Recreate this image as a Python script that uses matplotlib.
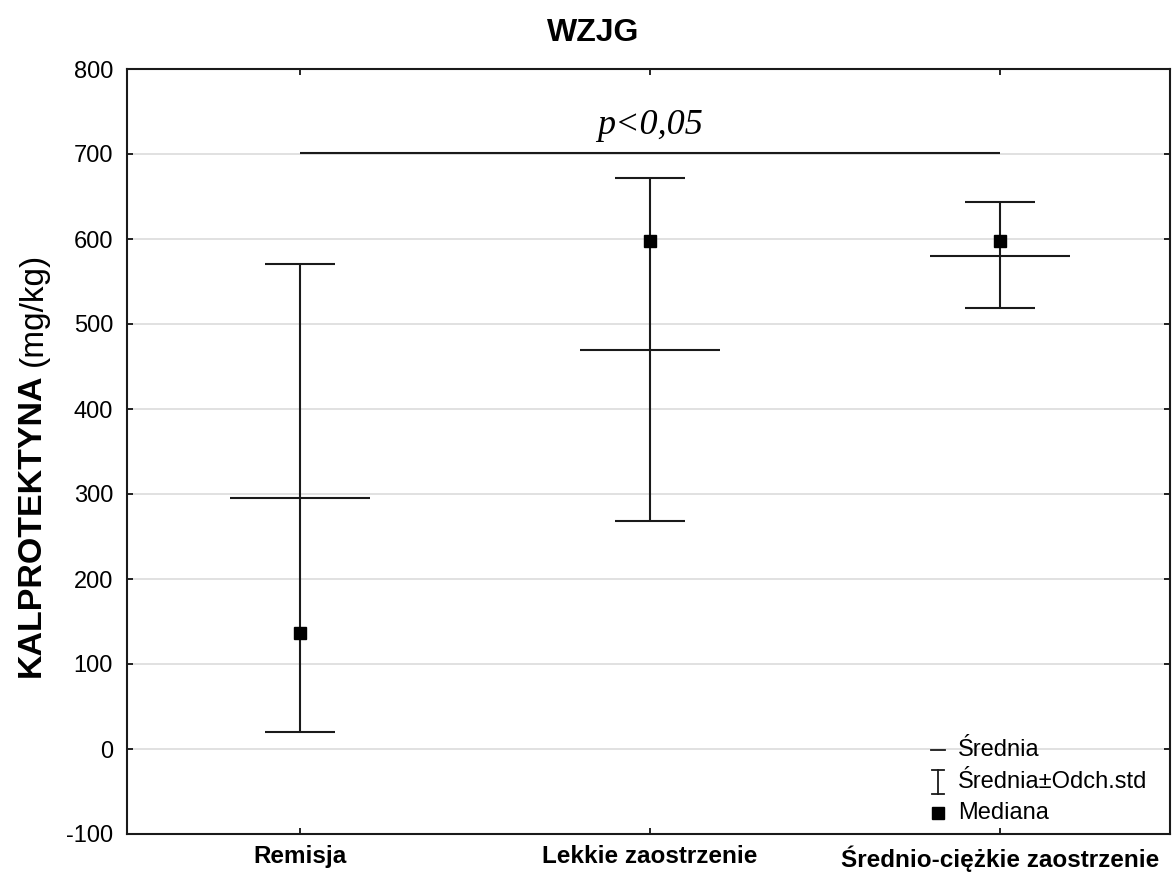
import matplotlib
matplotlib.use("Agg")
import matplotlib.pyplot as plt

categories = ["Remisja", "Lekkie zaostrzenie", "Średnio-ciężkie zaostrzenie"]
means = [295, 469, 580]
sd_upper = [571, 672, 643]
sd_lower = [20, 268, 519]
medians = [136, 598, 598]
p_value_level = 701
p_text = "p<0,05"
title = "WZJG"
yticks = [-100, 0, 100, 200, 300, 400, 500, 600, 700, 800]

plt.rcParams['font.family'] = ['Liberation Sans', 'DejaVu Sans']
LC = '#1a1a1a'

fig = plt.figure(figsize=(11.74, 8.74), dpi=100)
ax = fig.add_axes([127/1174, 1-834/874, (1170-127)/1174, (834-69)/874])

x = list(range(len(categories)))
yerr = [[m - lo for m, lo in zip(means, sd_lower)], [hi - m for m, hi in zip(means, sd_upper)]]

for yv in yticks:
    ax.axhline(yv, color='#dcdcdc', lw=1.2, zorder=0)

ax.errorbar(x, means, yerr=yerr, fmt='none', ecolor=LC, elinewidth=1.5,
            capsize=25.5, capthick=1.5, zorder=2)
ax.plot(x, means, ls='none', marker='_', ms=101, mew=1.5, color=LC, zorder=3)
ax.plot(x, medians, ls='none', marker='s', ms=9, color='black', zorder=4)

ax.hlines(p_value_level, x[0], x[-1], color=LC, lw=1.5, zorder=3)
ax.text((x[0] + x[-1]) / 2, 734, p_text, ha='center', va='center',
        fontsize=26, style='italic', family=['Liberation Serif', 'DejaVu Serif'])

ax.set_xlim(-0.494, 2.486)
ax.set_ylim(-100, 800)
ax.set_yticks(yticks)
ax.set_yticklabels([str(v) for v in yticks], fontsize=17)
ax.set_xticks(x)
ax.set_xticklabels(categories, fontsize=17.5, fontweight='bold')
ax.tick_params(axis='y', direction='in', length=4, width=1.2, pad=10, left=True, right=True)
ax.tick_params(axis='x', direction='in', length=4, width=1.2, pad=8, top=True, bottom=True)
for s in ax.spines.values():
    s.set_linewidth(1.5)
    s.set_color(LC)

# legend (manual, inside axes, lower right)
tx = 0.797
sx = 0.7776
rows = [0.1098, 0.068, 0.0275]
ax.plot([sx - 0.007, sx + 0.007], [rows[0], rows[0]], transform=ax.transAxes, color=LC, lw=1.3)
ax.plot([sx, sx], [rows[1] - 0.016, rows[1] + 0.016], transform=ax.transAxes, color=LC, lw=1.3)
ax.plot([sx - 0.006, sx + 0.006], [rows[1] + 0.016, rows[1] + 0.016], transform=ax.transAxes, color=LC, lw=1.3)
ax.plot([sx - 0.006, sx + 0.006], [rows[1] - 0.016, rows[1] - 0.016], transform=ax.transAxes, color=LC, lw=1.3)
ax.plot([sx], [rows[2]], transform=ax.transAxes, marker='s', ms=9, color='black', ls='none')
for r, lab in zip(rows, ["Średnia", "Średnia±Odch.std", "Mediana"]):
    ax.text(tx, r, lab, transform=ax.transAxes, fontsize=17, ha='left', va='center')

fig.text(0.505, 1 - 33/874, title, ha='center', va='center', fontsize=23, fontweight='bold')

t1 = fig.text(31/1174, 1 - 677/874, "KALPROTEKTYNA", rotation=90, ha='center', va='bottom',
              fontsize=24.5, fontweight='bold')
fig.canvas.draw()
bb = t1.get_window_extent()
top_px = bb.y1
fig.text(33/1174, (top_px + 7) / 874, "(mg/kg)", rotation=90, ha='center', va='bottom', fontsize=24)

fig.savefig("out.png", dpi=100)
